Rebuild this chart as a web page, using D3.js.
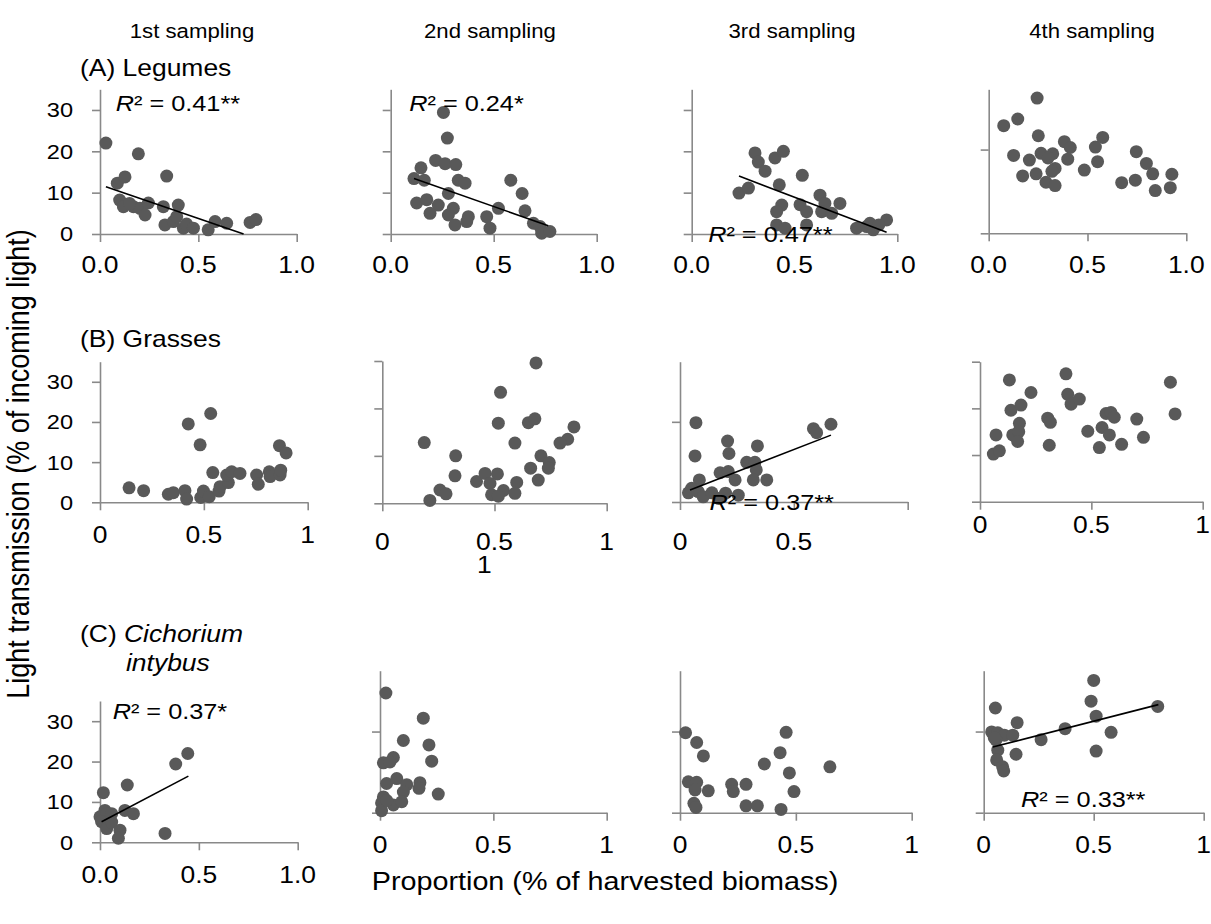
<!DOCTYPE html>
<html>
<head>
<meta charset="utf-8">
<script src="https://cdn.jsdelivr.net/npm/d3@7"></script>
<style>
  body { margin: 0; background: #fff; }
  text { font-family: Arial, "Liberation Sans", sans-serif; fill: #000; }
</style>
</head>
<body>
<script>
// column / row headings
const samplings = ["1st sampling", "2nd sampling", "3rd sampling", "4th sampling"];
const groupLabels = ["(A) Legumes", "(B) Grasses"];
const xTicks = [0, 0.5, 1];
const xLabelsDec = ["0.0", "0.5", "1.0"];
const xLabelsInt = ["0", "0.5", "1"];
const yTicksFull = [0, 10, 20, 30];
const yTicksTwo = [0, 20];

// [proportion, light transmission]
const legumes1 = [[0.03,22.0],[0.195,19.4],[0.088,12.3],[0.127,13.8],[0.339,14.0],[0.10,8.2],[0.119,6.6],[0.17,6.6],[0.203,6.2],[0.229,4.6],[0.246,7.5],[0.15,7.4],[0.322,6.6],[0.398,7.0],[0.33,2.2],[0.373,3.0],[0.39,4.2],[0.424,1.4],[0.44,2.4],[0.475,1.4],[0.55,1.0],[0.585,3.0],[0.644,2.6],[0.763,2.8],[0.793,3.5]];
const legumes2 = [[0.256,29.4],[0.275,23.2],[0.218,17.8],[0.264,17.0],[0.316,16.8],[0.147,16.0],[0.113,13.4],[0.163,13.0],[0.328,13.0],[0.361,12.3],[0.28,9.8],[0.583,13.0],[0.638,9.8],[0.126,7.5],[0.175,8.3],[0.231,7.0],[0.191,5.0],[0.304,6.2],[0.28,4.6],[0.312,2.2],[0.377,4.2],[0.369,3.0],[0.466,4.2],[0.482,1.4],[0.523,6.2],[0.652,5.6],[0.693,2.6],[0.725,1.8],[0.733,0.2],[0.773,0.6]];
const legumes3 = [[0.308,19.6],[0.324,17.4],[0.357,15.2],[0.405,18.4],[0.446,20.0],[0.23,9.9],[0.276,11.1],[0.426,11.9],[0.538,14.2],[0.438,7.0],[0.413,5.4],[0.527,7.1],[0.559,5.4],[0.624,9.4],[0.648,7.4],[0.632,5.4],[0.721,7.4],[0.681,5.0],[0.413,2.2],[0.454,1.4],[0.559,2.2],[0.802,1.4],[0.851,1.8],[0.883,1.0],[0.867,2.6],[0.948,3.4],[0.91,2.2]];
const legumes4 = [[0.245,32.3],[0.076,25.7],[0.147,27.3],[0.251,23.3],[0.126,18.6],[0.206,17.5],[0.265,19.1],[0.324,19.0],[0.30,18.0],[0.383,21.9],[0.413,20.5],[0.40,17.7],[0.336,15.5],[0.32,14.8],[0.172,13.7],[0.24,14.2],[0.29,12.2],[0.336,11.4],[0.484,15.1],[0.54,20.6],[0.577,22.9],[0.551,17.1],[0.673,12.1],[0.742,12.7],[0.747,19.5],[0.798,16.7],[0.83,14.2],[0.843,10.2],[0.927,14.1],[0.919,10.9]];

const grasses1 = [[0.14,3.6],[0.21,2.9],[0.329,2.0],[0.353,2.4],[0.409,2.9],[0.417,0.8],[0.425,19.5],[0.482,14.3],[0.533,22.1],[0.485,1.2],[0.498,2.8],[0.526,1.4],[0.543,7.4],[0.573,2.8],[0.578,3.9],[0.618,4.9],[0.61,6.8],[0.634,7.6],[0.674,7.2],[0.754,6.8],[0.762,4.5],[0.815,7.6],[0.819,6.4],[0.867,6.8],[0.87,8.0],[0.864,14.1],[0.896,12.3]];
const grasses2 = [[0.685,29.6],[0.527,23.4],[0.517,16.9],[0.651,17.0],[0.68,17.8],[0.854,16.1],[0.826,13.5],[0.792,12.7],[0.187,12.8],[0.591,12.7],[0.327,10.0],[0.707,10.0],[0.744,8.6],[0.74,7.4],[0.661,7.4],[0.695,4.9],[0.324,5.8],[0.42,4.6],[0.458,6.3],[0.513,6.2],[0.48,4.2],[0.599,4.4],[0.54,2.7],[0.487,1.8],[0.517,1.5],[0.591,2.1],[0.257,2.8],[0.284,2.0],[0.212,0.6]];
const grasses3 = [[0.07,19.8],[0.066,11.5],[0.209,15.2],[0.215,12.1],[0.34,14.0],[0.293,9.9],[0.329,9.9],[0.335,8.0],[0.176,7.3],[0.212,7.6],[0.242,5.5],[0.322,5.5],[0.381,5.5],[0.586,18.3],[0.6,17.3],[0.663,19.4],[0.085,5.5],[0.051,3.4],[0.037,2.3],[0.08,2.6],[0.102,1.3],[0.14,2.3],[0.2,2.2],[0.256,1.7],[0.17,0.9]];
const grasses4 = [[0.06,10.2],[0.087,10.9],[0.072,14.3],[0.132,26.1],[0.139,19.6],[0.184,20.7],[0.229,23.4],[0.147,14.3],[0.177,16.8],[0.174,15.0],[0.169,12.9],[0.304,17.9],[0.316,17.0],[0.311,12.1],[0.386,27.4],[0.394,23.0],[0.409,20.9],[0.446,22.0],[0.484,15.1],[0.548,15.9],[0.581,14.3],[0.536,11.6],[0.566,18.9],[0.588,19.1],[0.603,18.1],[0.636,12.3],[0.704,17.7],[0.734,13.8],[0.855,25.6],[0.876,18.8]];

const chicory1 = [[0.444,22.0],[0.383,19.4],[0.138,14.2],[0.017,12.3],[0.025,7.9],[0.0,6.3],[0.034,7.1],[0.059,7.1],[0.008,5.1],[0.034,3.4],[0.059,5.0],[0.126,7.9],[0.169,7.1],[0.101,3.0],[0.093,1.0],[0.329,2.2]];
const chicory2 = [[0.026,29.5],[0.191,23.3],[0.103,17.8],[0.216,16.7],[0.228,12.7],[0.015,12.3],[0.059,13.6],[0.044,12.5],[0.029,7.2],[0.074,8.4],[0.118,6.9],[0.103,5.1],[0.176,7.4],[0.172,6.0],[0.257,4.6],[0.015,3.9],[0.007,2.4],[0.059,1.9],[0.096,2.7],[0.007,0.5],[0.03,3.0]];
const chicory3 = [[0.024,19.7],[0.072,17.3],[0.101,14.0],[0.036,7.6],[0.072,7.5],[0.065,5.6],[0.122,5.4],[0.06,2.3],[0.069,1.3],[0.223,7.0],[0.23,5.2],[0.285,7.0],[0.285,1.7],[0.334,1.7],[0.364,12.0],[0.432,14.8],[0.458,19.8],[0.472,9.8],[0.492,5.2],[0.436,0.8],[0.647,11.3]];
const chicory4 = [[0.5,32.6],[0.488,27.5],[0.053,25.8],[0.511,23.8],[0.791,26.2],[0.152,22.2],[0.37,20.7],[0.579,19.8],[0.261,18.0],[0.511,15.2],[0.036,19.9],[0.064,19.7],[0.094,19.1],[0.132,19.1],[0.056,17.9],[0.064,15.4],[0.059,13.0],[0.086,11.3],[0.091,10.3],[0.147,14.4],[0.048,18.5]];

// linear fits: [xFrom, xTo, intercept, slope]
const fitLegumes1 = [0.03, 0.73, 11.9, -16.3];
const fitLegumes2 = [0.113, 0.765, 15.4, -17.5];
const fitLegumes3 = [0.23, 0.948, 18.35, -18.9];
const fitGrasses3 = [0.044, 0.663, 2.03, 22.1];
const fitChicory1 = [0.008, 0.447, 4.9, 25.7];
const fitChicory4 = [0.041, 0.794, 15.6, 13.9];

// R² text: [value text, x, y] in data units
const r2Legumes1 = ["0.41**", 0.08, 29.8];
const r2Legumes2 = ["0.24*", 0.09, 29.8];
const r2Legumes3 = ["0.47**", 0.08, -1.85];
const r2Grasses3 = ["0.37**", 0.13, -2.0];
const r2Chicory1 = ["0.37*", 0.064, 30.5];
const r2Chicory4 = ["0.33**", 0.17, 1.5];

const W = 1211, H = 924;
const SX = 1.15; // text in the picture is a bit wider than tall
const dotColor = "#595959", axisColor = "#898989";

// panel boxes in pixels: x of 0 and 1, y of 0 and of yMax
const panels = [
  {data: legumes1, x0: 100, x1: 296.7, yb: 234, yt: 89.3, ymax: 35, yt_: yTicksFull, yLab: true, xl: xLabelsDec, lb: 273, fit: fitLegumes1, r2: r2Legumes1},
  {data: legumes2, x0: 390.7, x1: 596.7, yb: 234, yt: 89.3, ymax: 35, yt_: yTicksFull, xl: xLabelsDec, lb: 273, fit: fitLegumes2, r2: r2Legumes2},
  {data: legumes3, x0: 691.7, x1: 897.3, yb: 234, yt: 89.3, ymax: 35, yt_: yTicksFull, xl: xLabelsDec, lb: 273, fit: fitLegumes3, r2: r2Legumes3},
  {data: legumes4, x0: 988.7, x1: 1186.3, yb: 233.3, yt: 89.3, ymax: 34.4, yt_: yTicksTwo, xl: xLabelsDec, lb: 273},
  {data: grasses1, x0: 100, x1: 307.7, yb: 502.3, yt: 361.7, ymax: 35, yt_: yTicksFull, yLab: true, xl: xLabelsInt, lb: 543},
  {data: grasses2, x0: 382.3, x1: 606.7, yb: 503.3, yt: 361, ymax: 30, yt_: yTicksFull, xl: xLabelsInt, lb: 550, extra: ["1", 0.455, 573]},
  {data: grasses3, x0: 680, x1: 907.7, yb: 502, yt: 361.7, ymax: 35, yt_: yTicksTwo, xl: xLabelsInt.slice(0, 2), lb: 550, fit: fitGrasses3, r2: r2Grasses3},
  {data: grasses4, x0: 980, x1: 1202.7, yb: 501.7, yt: 361.7, ymax: 30, yt_: yTicksFull, xl: xLabelsInt, lb: 533},
  {data: chicory1, x0: 100, x1: 297.7, yb: 842.3, yt: 701, ymax: 35, yt_: yTicksFull, yLab: true, xl: xLabelsDec, lb: 883, fit: fitChicory1, r2: r2Chicory1},
  {data: chicory2, x0: 380, x1: 606.7, yb: 812.7, yt: 670.7, ymax: 35, yt_: yTicksTwo, xl: xLabelsInt, lb: 853},
  {data: chicory3, x0: 680, x1: 911.7, yb: 812.7, yt: 670.7, ymax: 35, yt_: yTicksTwo, xl: xLabelsInt, lb: 853},
  {data: chicory4, x0: 983.7, x1: 1203.7, yb: 812.7, yt: 670.7, ymax: 35, yt_: yTicksTwo, xl: xLabelsInt, lb: 853, fit: fitChicory4, r2: r2Chicory4}
];

const svg = d3.select("body").append("svg").attr("width", W).attr("height", H);

function stretchText(sel, x, y, size, anchor) {
  return sel.append("text")
    .attr("transform", `translate(${x},${y}) scale(${SX},1)`)
    .attr("font-size", size)
    .attr("text-anchor", anchor || "start");
}

function styleAxis(a) {
  a.select(".domain").attr("stroke", axisColor).attr("stroke-width", 1.6);
  a.selectAll(".tick line").attr("stroke", axisColor).attr("stroke-width", 1.6);
}

panels.forEach(p => {
  const x = d3.scaleLinear().domain([0, 1]).range([p.x0, p.x1]);
  const y = d3.scaleLinear().domain([0, p.ymax]).range([p.yb, p.yt]);
  const g = svg.append("g");

  g.append("g").attr("transform", `translate(0,${p.yb})`)
    .call(d3.axisBottom(x).tickValues(xTicks).tickSize(8).tickSizeOuter(0).tickFormat(""))
    .call(styleAxis);
  g.append("g").attr("transform", `translate(${p.x0},0)`)
    .call(d3.axisLeft(y).tickValues(p.yt_).tickSize(8).tickSizeOuter(0).tickFormat(""))
    .call(styleAxis);

  p.xl.forEach((lab, i) => {
    stretchText(g, x(xTicks[i]), p.lb, 23, "middle").text(lab);
  });
  if (p.extra) stretchText(g, x(p.extra[1]), p.extra[2], 23, "middle").text(p.extra[0]);
  if (p.yLab) {
    p.yt_.forEach(v => {
      stretchText(g, p.x0 - 27, y(v), 20.5, "end").attr("dy", "0.36em").text(v);
    });
  }

  g.append("g").selectAll("circle").data(p.data).join("circle")
    .attr("cx", d => x(d[0]))
    .attr("cy", d => y(d[1]))
    .attr("r", 6.5)
    .attr("fill", dotColor);

  if (p.fit) {
    const [a0, a1, b0, b1] = p.fit;
    g.append("line")
      .attr("x1", x(a0)).attr("y1", y(b0 + b1 * a0))
      .attr("x2", x(a1)).attr("y2", y(b0 + b1 * a1))
      .attr("stroke", "#000").attr("stroke-width", 1.6);
  }
  if (p.r2) {
    const t = stretchText(g, x(p.r2[1]), y(p.r2[2]), 22);
    t.append("tspan").attr("font-style", "italic").text("R");
    t.append("tspan").text("² = " + p.r2[0]);
  }
});

// column headings
const colCentres = [192, 490, 792, 1092];
samplings.forEach((s, i) => stretchText(svg, colCentres[i], 38, 19.3, "middle").text(s));

// row headings
stretchText(svg, 80, 76, 23).text(groupLabels[0]);
stretchText(svg, 80, 347, 23).text(groupLabels[1]);
const c = stretchText(svg, 80, 642, 23);
c.append("tspan").text("(C) ");
c.append("tspan").attr("font-style", "italic").text("Cichorium");
stretchText(svg, 126, 671, 23).attr("font-style", "italic").text("intybus");

// axis titles
svg.append("text")
  .attr("transform", `translate(29,464) scale(${SX},1) rotate(-90)`)
  .attr("font-size", 27).attr("text-anchor", "middle")
  .text("Light transmission (% of incoming light)");
stretchText(svg, 605, 890, 25, "middle").text("Proportion (% of harvested biomass)");
</script>
</body>
</html>
